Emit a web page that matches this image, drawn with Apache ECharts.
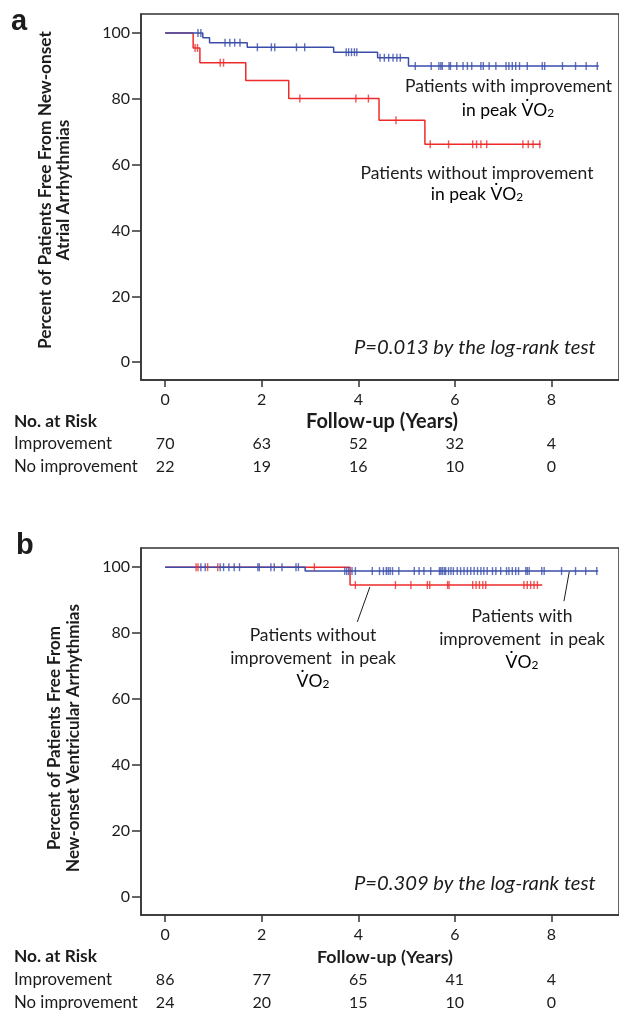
<!DOCTYPE html>
<html><head><meta charset="utf-8">
<script src="https://cdn.jsdelivr.net/npm/echarts@6/dist/echarts.min.js"></script>
<style>html,body{margin:0;padding:0;background:#fff}#c{width:619px;height:1010px}</style>
</head><body><div id="c"></div>
<script>
// ---------- data ----------
const xTicks = [0, 2, 4, 6, 8];
const yTicks = [0, 20, 40, 60, 80, 100];
const riskCols = [0, 2, 4, 6, 8];

// Panel a: atrial arrhythmias
const aImpEventT = [0.78, 0.92, 1.70, 3.49, 4.40, 5.04];
const aImpEventS = [98.6, 97.1, 95.7, 94.2, 92.5, 90.0];
const aImpEnd = 8.98;
const aImpCensor = [0.68, 0.74, 1.24, 1.34, 1.44, 1.55, 1.91, 2.20, 2.27, 2.72, 2.89, 3.75, 3.80, 3.86, 3.92, 3.97,
  4.45, 4.54, 4.63, 4.72, 4.80, 4.87, 5.18, 5.51, 5.67, 5.71, 5.74, 5.88, 5.91, 6.04, 6.17, 6.26, 6.35, 6.54, 6.59,
  6.71, 6.85, 7.06, 7.12, 7.19, 7.26, 7.34, 7.50, 7.81, 7.86, 8.23, 8.50, 8.72, 8.95];
const aNoEventT = [0.58, 0.72, 1.67, 2.56, 4.43, 5.38];
const aNoEventS = [95.5, 91.0, 85.6, 80.1, 73.5, 66.2];
const aNoEnd = 7.78;
const aNoCensor = [0.62, 0.67, 1.14, 1.21, 2.79, 3.95, 4.21, 4.78, 5.49, 5.87, 6.37, 6.45, 6.54, 6.66, 7.41, 7.52, 7.62, 7.76];
const aRiskImp = [70, 63, 52, 32, 4];
const aRiskNo = [22, 19, 16, 10, 0];

// Panel b: ventricular arrhythmias
const bImpEventT = [2.90];
const bImpEventS = [98.8];
const bImpEnd = 8.97;
const bImpCensor = [0.74, 0.83, 1.14, 1.21, 1.32, 1.43, 1.54, 1.92, 1.95, 2.19, 2.26, 2.42, 2.71, 2.76,
  3.72, 3.76, 3.80, 3.87, 3.94, 4.29, 4.44, 4.52, 4.58, 4.62, 4.66, 4.71, 4.84, 5.16, 5.26, 5.36, 5.50,
  5.68, 5.71, 5.74, 5.78, 5.81, 5.87, 5.92, 5.97, 6.05, 6.12, 6.19, 6.26, 6.33, 6.40, 6.47, 6.54, 6.60, 6.67,
  6.78, 6.85, 6.95, 7.07, 7.12, 7.19, 7.26, 7.32, 7.47, 7.50, 7.54, 7.80, 7.85, 8.21, 8.50, 8.71, 8.94];
const bNoEventT = [3.83];
const bNoEventS = [94.6];
const bNoEnd = 7.81;
const bNoCensor = [0.64, 0.68, 0.88, 1.09, 3.09, 3.94, 4.77, 5.09, 5.43, 5.48, 5.85, 5.88, 6.37, 6.44, 6.51, 6.58, 6.64,
  7.43, 7.50, 7.57, 7.64, 7.71];
const bRiskImp = [86, 77, 65, 41, 4];
const bRiskNo = [24, 20, 15, 10, 0];
// leader lines (data coords) for panel b labels
const bLeaderNo = [[4.24, 94.0], [3.98, 83.4]];
const bLeaderImp = [[8.37, 98.6], [8.26, 89.7]];

// ---------- helpers ----------
const BLUE = '#3a4daa', RED = '#ee2b2b', INK = '#1c1c1c', AX = '#333';
const FAM = 'Lato';
function km(evT, evS, end) {
  const d = [[0, 100]];
  evT.forEach((t, i) => d.push([t, evS[i]]));
  d.push([end, evS[evS.length - 1]]);
  return d;
}
function cens(ct, evT, evS) {
  return ct.map(t => { let s = 100; evT.forEach((e, i) => { if (e <= t) s = evS[i]; }); return [t, s]; });
}
const cv = document.createElement('canvas').getContext('2d');
function fit(text, w, weight, style, fam) {
  cv.font = (style || 'normal') + ' normal ' + (weight || 'normal') + ' 100px "' + (fam || FAM) + '"';
  return 100 * w / cv.measureText(text).width;
}

function xAx(gi) {
  return {
    type: 'value', gridIndex: gi, min: -0.5, max: 9.4,
    axisLine: { show: true, onZero: false, lineStyle: { color: AX, width: 1.5 } },
    axisTick: { show: true, customValues: xTicks, length: 7, lineStyle: { color: AX, width: 1.5 } },
    axisLabel: { customValues: xTicks, margin: 12, fontSize: 16, fontFamily: FAM, color: INK },
    splitLine: { show: false }
  };
}
function yAx(gi) {
  return {
    type: 'value', gridIndex: gi, min: -5.4, max: 105.8,
    axisLine: { show: true, onZero: false, lineStyle: { color: AX, width: 1.5 } },
    axisTick: { show: true, customValues: yTicks, length: 9, lineStyle: { color: AX, width: 1.5 } },
    axisLabel: { customValues: yTicks, margin: 11, fontSize: 16, fontFamily: FAM, color: INK },
    splitLine: { show: false }
  };
}
function lineS(gi, data, color, extra) {
  return Object.assign({
    type: 'line', xAxisIndex: gi, yAxisIndex: gi, step: 'end', data: data, showSymbol: false,
    lineStyle: { color: color, width: 1.5 }, itemStyle: { color: color }, silent: true, z: 2
  }, extra || {});
}
function censS(gi, data, color) {
  return {
    type: 'scatter', xAxisIndex: gi, yAxisIndex: gi, data: data, symbol: 'rect', symbolSize: [1.4, 8],
    itemStyle: { color: color }, silent: true, z: 3
  };
}

const chart = echarts.init(document.getElementById('c'));
chart.setOption({
  animation: false,
  backgroundColor: '#fff',
  grid: [
    { left: 141, top: 14, width: 479, height: 366, show: true, borderColor: AX, borderWidth: 1.5 },
    { left: 141, top: 548, width: 479, height: 367, show: true, borderColor: AX, borderWidth: 1.5 }
  ],
  xAxis: [xAx(0), xAx(1)],
  yAxis: [yAx(0), yAx(1)],
  series: [
    lineS(0, km(aNoEventT, aNoEventS, aNoEnd), RED),
    lineS(0, km(aImpEventT, aImpEventS, aImpEnd), BLUE),
    censS(0, cens(aNoCensor, aNoEventT, aNoEventS), RED),
    censS(0, cens(aImpCensor, aImpEventT, aImpEventS), BLUE),
    lineS(1, km(bNoEventT, bNoEventS, bNoEnd), RED),
    lineS(1, km(bImpEventT, bImpEventS, bImpEnd), BLUE, {
      markLine: {
        silent: true, symbol: ['none', 'none'], label: { show: false },
        lineStyle: { color: INK, width: 1, type: 'solid' }, emphasis: { disabled: true },
        data: [
          [{ coord: bLeaderNo[0] }, { coord: bLeaderNo[1] }],
          [{ coord: bLeaderImp[0] }, { coord: bLeaderImp[1] }]
        ]
      }
    }),
    censS(1, cens(bNoCensor, bNoEventT, bNoEventS), RED),
    censS(1, cens(bImpCensor, bImpEventT, bImpEventS), BLUE)
  ]
});

// ---------- text ----------
const g = [];
function txt(text, x, y, size, opts) {
  opts = opts || {};
  g.push({
    type: 'text', x: x, y: y, rotation: opts.rot || 0, silent: true, z: 10,
    style: {
      text: text, fill: INK,
      font: (opts.style || 'normal') + ' ' + (opts.weight || 'normal') + ' ' + size.toFixed(2) + 'px "' + (opts.fam || FAM) + '"',
      textAlign: opts.align || 'left', textVerticalAlign: 'middle'
    }
  });
}
function vo2(prefix, x, y, size, align) {
  g.push({
    type: 'text', x: x, y: y, silent: true, z: 10,
    style: {
      text: '{a|' + prefix + 'V\u0307O}{s|2}',
      textAlign: align || 'center', textVerticalAlign: 'middle',
      rich: {
        a: { fontFamily: FAM, fontSize: size, color: INK, lineHeight: size * 1.2 },
        s: { fontFamily: FAM, fontSize: size * 0.68, color: INK, verticalAlign: 'bottom', padding: [0, 0, 1, 0] }
      }
    }
  });
}
// panel letters
txt('a', 11, 22, 29, { weight: 'bold', fam: 'Liberation Sans' });
txt('b', 16, 546, 29, { weight: 'bold', fam: 'Liberation Sans' });

// y titles
const yt1 = 'Percent of Patients Free From New-onset';
const ysA = fit(yt1, 318, 'bold');
txt(yt1, 45, 190, ysA, { weight: 'bold', align: 'center', rot: Math.PI / 2 });
txt('Atrial Arrhythmias', 63, 190, ysA, { weight: 'bold', align: 'center', rot: Math.PI / 2 });
const ysB = fit('New-onset Ventricular Arrhythmias', 268, 'bold');
txt('Percent of Patients Free From', 55, 738, ysB, { weight: 'bold', align: 'center', rot: Math.PI / 2 });
txt('New-onset Ventricular Arrhythmias', 74, 738, ysB, { weight: 'bold', align: 'center', rot: Math.PI / 2 });

// annotations panel a
const anS = fit('Patients with improvement', 207);
txt('Patients with improvement', 508.5, 86, anS, { align: 'center' });
vo2('in peak ', 508, 110, anS);
txt('Patients without improvement', 477, 173, anS, { align: 'center' });
vo2('in peak ', 477, 194, anS);
// annotations panel b
txt('Patients without', 313, 635, anS, { align: 'center' });
txt('improvement  in peak', 313, 658, anS, { align: 'center' });
vo2('', 313, 681, anS);
txt('Patients with', 522, 616, anS, { align: 'center' });
txt('improvement  in peak', 522, 639, anS, { align: 'center' });
vo2('', 522, 662, anS);

// p-values
const pS = fit('P=0.013 by the log-rank test', 242, 'normal', 'italic');
txt('P=0.013 by the log-rank test', 354, 347, pS, { style: 'italic' });
txt('P=0.309 by the log-rank test', 354, 883, pS, { style: 'italic' });

// risk tables
const nrS = fit('No. at Risk', 83, 'bold');
const rowS = fit('No improvement', 124);
function riskTable(gi, yTitle, yRow1, yRow2, fuW, fuX, r1, r2) {
  txt('No. at Risk', 14, yTitle, nrS, { weight: 'bold' });
  txt('Follow-up (Years)', fuX, yTitle + 1, fit('Follow-up (Years)', fuW, 'bold'), { weight: 'bold', align: 'center' });
  txt('Improvement', 14, yRow1, rowS);
  txt('No improvement', 14, yRow2, rowS);
  riskCols.forEach((t, i) => {
    const px = chart.convertToPixel({ xAxisIndex: gi }, t);
    txt(String(r1[i]), px, yRow1, 16, { align: 'center' });
    txt(String(r2[i]), px, yRow2, 16, { align: 'center' });
  });
}
riskTable(0, 421, 444, 467, 152, 382, aRiskImp, aRiskNo);
riskTable(1, 956, 980, 1003, 136, 385, bRiskImp, bRiskNo);

chart.setOption({ graphic: g });
</script></body></html>
